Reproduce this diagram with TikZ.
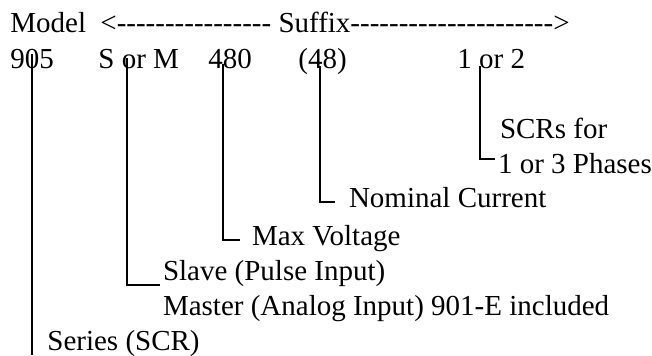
\documentclass[tikz,border=0pt]{standalone}
\usepackage{fontspec}
\newfontfamily\diagfont{Liberation Serif}[Ligatures={NoCommon}]
\usepackage{tikz}
\usetikzlibrary{positioning}

\begin{document}
\begin{tikzpicture}[x=0.5pt, y=-0.5pt, every node/.style={font=\diagfont\fontsize{14.5}{17}\selectfont}]
  % Part number breakdown with leader lines
  \tikzstyle{txt} = [inner sep=0pt, anchor=base west, text height=0.7em, text depth=0.22em]
  \tikzstyle{lead} = [line width=1pt]
  \useasboundingbox (0, 0) rectangle (652, 355);

  % Header row
  \node[txt] (model) at (10, 32) {Model};
  \node[txt] (suffix) at (100, 32) {<---------------- Suffix--------------------->};

  % Code row
  \node[txt] (c905) at (10, 68) {905};
  \node[txt] (csm) at (98, 68) {S or M};
  \node[txt] (c480) at (208, 68) {480};
  \node[txt] (c48) at (298, 68) {(48)};
  \node[txt] (c12) at (457, 68) {1 or 2};

  % Where the leaders leave the codes
  \coordinate (tap905) at (32, 54);
  \coordinate (tapSM) at (127, 58);
  \coordinate (tap480) at (223, 64);
  \coordinate (tap48) at (320, 66);
  \coordinate (tap12) at (480, 66);

  % Descriptions
  \node[txt, outer xsep=1.5pt] (scrs) at (497, 138) {SCRs for};
  \node[txt, outer xsep=1.5pt] (phases) at (495, 173) {1 or 3 Phases};
  \node[txt, outer xsep=7pt] (nomc) at (335, 207) {Nominal Current};
  \node[txt, outer xsep=6pt] (maxv) at (240, 245) {Max Voltage};
  \node[txt, outer xsep=1.5pt] (slave) at (160, 280) {Slave (Pulse Input)};
  \node[txt, outer xsep=1.5pt] (master) at (160, 315) {Master (Analog Input) 901-E included};
  \node[txt] (series) at (47, 350) {Series (SCR)};

  % Leaders
  \draw[lead] (tap905) -- (tap905 |- series.south);
  \draw[lead] (tapSM) |- (slave.south west);
  \draw[lead] (tap480) |- (maxv.west);
  \draw[lead] (tap48) |- (nomc.west);
  \draw[lead] (tap12) |- (phases.north west);

\end{tikzpicture}
\end{document}
